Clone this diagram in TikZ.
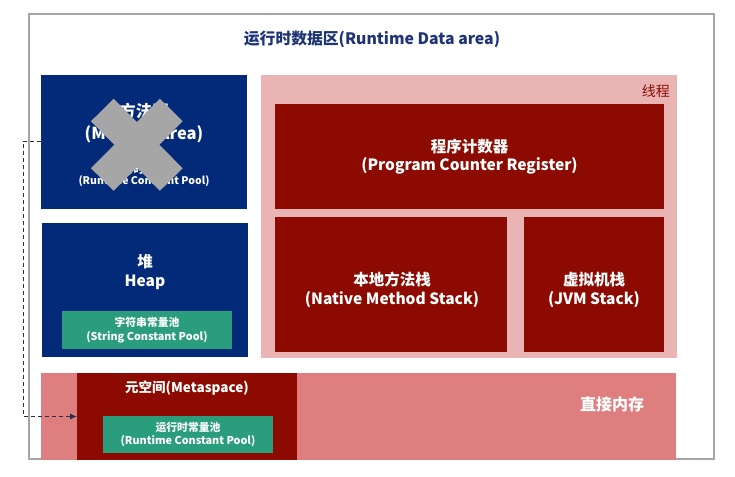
\documentclass[tikz,border=0pt]{standalone}
\usepackage{fontspec}
\setmainfont{Noto Sans CJK SC}
\usetikzlibrary{arrows.meta}

\definecolor{navy}{RGB}{2,42,120}
\definecolor{darkred}{RGB}{140,10,0}
\definecolor{threadpink}{RGB}{235,180,180}
\definecolor{directred}{RGB}{222,126,126}
\definecolor{poolgreen}{RGB}{42,157,124}
\definecolor{titleblue}{RGB}{30,52,118}
\definecolor{framegray}{RGB}{166,166,166}
\definecolor{crossgray}{RGB}{166,166,166}
\definecolor{linkblue}{RGB}{40,48,78}

\begin{document}
\begin{tikzpicture}[x=1pt, y=-1pt,
  area/.style={anchor=north west, inner sep=0pt, outer sep=0pt},
  lbl/.style={text=white, align=center, font=\bfseries\fontsize{15.5}{18.5}\selectfont},
  small/.style={text=white, align=center, font=\bfseries\fontsize{10.8}{13.5}\selectfont}]
  \useasboundingbox (0,0) rectangle (735,476);
  \draw[framegray, line width=1.2] (29,14) rectangle (714,459);
  \node[text=titleblue, font=\bfseries\fontsize{15.8}{18}\selectfont] (title) at (372,39) {运行时数据区(Runtime Data area)};

  % method area, crossed out
  \node[area, fill=navy, minimum width=206, minimum height=134] (method) at (41,75) {};
  \node[text=white, align=center, font=\bfseries\fontsize{16.5}{22}\selectfont] (methodtxt) at (144,123) {方法区\\(Method Area)};
  \node[small, font=\bfseries\fontsize{10.5}{11.5}\selectfont] (methodpool) at (144,175.5) {运行时常量池\\(Runtime Constant Pool)};
  \draw[crossgray, line width=32] (102.3,110) -- (171.3,179.5);
  \draw[crossgray, line width=32] (171.3,110) -- (102.3,179.5);

  % heap
  \node[area, fill=navy, minimum width=206, minimum height=134] (heap) at (42,223) {};
  \node[lbl, font=\bfseries\fontsize{15.5}{19}\selectfont] (heaptxt) at (145,272) {堆\\Heap};
  \node[area, fill=poolgreen, minimum width=170, minimum height=38] (strpool) at (62,311) {};
  \node[small] (strpooltxt) at (strpool.center) {字符串常量池\\(String Constant Pool)};

  % thread private
  \node[area, fill=threadpink, minimum width=416, minimum height=283] (thread) at (261,75) {};
  \node[anchor=east, text=darkred, font=\fontsize{14}{16}\selectfont, inner sep=0pt] (threadtxt) at (670,91) {线程};
  \node[area, fill=darkred, minimum width=389, minimum height=105] (pc) at (275,104) {};
  \node[lbl] (pctxt) at (pc.center) {程序计数器\\(Program Counter Register)};
  \node[area, fill=darkred, minimum width=232, minimum height=135] (native) at (275,217) {};
  \node[lbl] (nativetxt) at (392,290) {本地方法栈\\(Native Method Stack)};
  \node[area, fill=darkred, minimum width=140, minimum height=135] (jvm) at (524,217) {};
  \node[lbl] (jvmtxt) at (594,290) {虚拟机栈\\(JVM Stack)};

  % direct memory
  \node[area, fill=directred, minimum width=635, minimum height=87] (direct) at (41,373) {};
  \node[text=white, font=\bfseries\fontsize{16}{18}\selectfont] (directtxt) at (612,404) {直接内存};
  \node[area, fill=darkred, minimum width=220, minimum height=87] (meta) at (77,373) {};
  \node[text=white, font=\bfseries\fontsize{13.5}{16}\selectfont] (metatxt) at (187,388) {元空间(Metaspace)};
  \node[area, fill=poolgreen, minimum width=170, minimum height=37] (rtpool) at (103,416) {};
  \node[small] (rtpooltxt) at (rtpool.center) {运行时常量池\\(Runtime Constant Pool)};

  \draw[linkblue, line width=0.9, dash pattern=on 4pt off 3pt, -{Latex[length=7pt,width=6pt]}]
    (method.west |- 0,141) -- (23,141) |- (meta.west);
\end{tikzpicture}
\end{document}
